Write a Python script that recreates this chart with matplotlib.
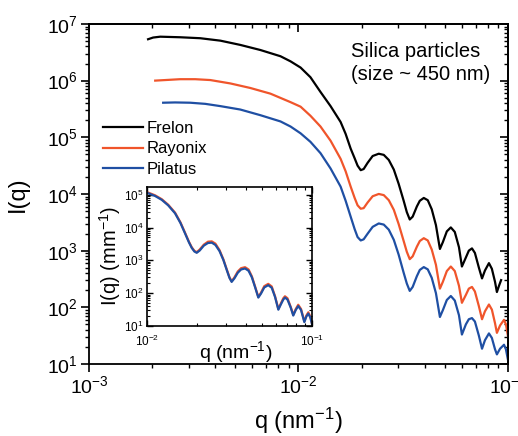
from matplotlib import pyplot as plt
from matplotlib.ticker import LogLocator, NullFormatter
import numpy as np

plt.rcParams['font.family'] = ['Liberation Sans', 'DejaVu Sans']
plt.rcParams['mathtext.fontset'] = 'custom'
plt.rcParams['mathtext.rm'] = 'Liberation Sans'
plt.rcParams['mathtext.it'] = 'Liberation Sans:italic'
plt.rcParams['mathtext.bf'] = 'Liberation Sans:bold'

# Данные основного графика: lg q (q в нм^-1) и lg I(q)
# Начальные участки (плато) у каждого детектора свои
lgq_head_frelon = [-2.718, -2.694, -2.660, -2.565, -2.469, -2.373, -2.278, -2.182, -2.086, -2.038]
lgI_head_frelon = [6.73, 6.76, 6.775, 6.765, 6.748, 6.705, 6.63, 6.54, 6.43, 6.34]

lgq_head_rayonix = [-2.684, -2.636, -2.565, -2.493, -2.421, -2.325, -2.230, -2.134, -2.038]
lgI_head_rayonix = [6.0, 6.01, 6.025, 6.025, 6.01, 5.95, 5.87, 5.77, 5.62]

lgq_head_pilatus = [-2.646, -2.589, -2.517, -2.445, -2.373, -2.278, -2.182, -2.086, -2.038]
lgI_head_pilatus = [5.61, 5.615, 5.61, 5.59, 5.55, 5.49, 5.39, 5.28, 5.19]

# Общая сетка по q в области осцилляций
lgq_mid = [-1.990, -1.943, -1.895, -1.847, -1.799, -1.775, -1.751, -1.732, -1.718, -1.703,
           -1.689, -1.670, -1.646, -1.617, -1.593, -1.569, -1.545, -1.522, -1.498, -1.483,
           -1.469, -1.455, -1.435, -1.421, -1.402, -1.383, -1.364, -1.344, -1.325, -1.311,
           -1.292, -1.273, -1.254, -1.234, -1.220, -1.201, -1.187, -1.172, -1.158, -1.139,
           -1.124, -1.110, -1.091, -1.077, -1.062, -1.053]
lgI_mid_frelon = [6.23, 6.06, 5.80, 5.55, 5.27, 5.06, 4.80, 4.63, 4.50, 4.42,
                  4.44, 4.55, 4.67, 4.71, 4.69, 4.60, 4.43, 4.18, 3.88, 3.68,
                  3.55, 3.60, 3.78, 3.88, 3.93, 3.89, 3.73, 3.45, 3.03, 3.15,
                  3.34, 3.41, 3.33, 3.06, 2.72, 2.88, 3.00, 3.04, 2.96, 2.70,
                  2.51, 2.65, 2.78, 2.68, 2.45, 2.27]
lgI_mid_rayonix = [5.54, 5.38, 5.19, 4.94, 4.62, 4.40, 4.13, 3.93, 3.80, 3.74,
                   3.75, 3.85, 3.96, 4.00, 3.98, 3.89, 3.72, 3.47, 3.17, 2.98,
                   2.85, 2.90, 3.07, 3.17, 3.22, 3.18, 3.02, 2.75, 2.33, 2.45,
                   2.64, 2.72, 2.64, 2.38, 2.08, 2.22, 2.33, 2.36, 2.28, 2.02,
                   1.79, 1.93, 2.05, 1.96, 1.72, 1.55]
lgI_mid_pilatus = [5.07, 4.92, 4.72, 4.45, 4.13, 3.88, 3.60, 3.38, 3.24, 3.18,
                   3.20, 3.30, 3.42, 3.48, 3.46, 3.37, 3.19, 2.93, 2.61, 2.42,
                   2.29, 2.36, 2.55, 2.66, 2.71, 2.67, 2.52, 2.25, 1.83, 1.95,
                   2.13, 2.20, 2.12, 1.86, 1.52, 1.70, 1.79, 1.81, 1.75, 1.50,
                   1.27, 1.42, 1.54, 1.46, 1.26, 1.17]

# Хвосты
lgq_tail_frelon = [-1.043, -1.033]
lgI_tail_frelon = [2.38, 2.48]
lgq_tail = [-1.038, -1.019, -1.010, -1.0]
lgI_tail_rayonix = [1.68, 1.78, 1.70, 1.49]
lgI_tail_pilatus = [1.27, 1.34, 1.26, 1.07]

# Вставка: абсолютная интенсивность (мм^-1)
lgq_inset = [-2.0, -1.95, -1.909, -1.87, -1.829, -1.796, -1.769, -1.745, -1.728, -1.712,
             -1.698, -1.680, -1.655, -1.630, -1.607, -1.585, -1.560, -1.537, -1.515, -1.500,
             -1.487, -1.470, -1.450, -1.430, -1.406, -1.385, -1.365, -1.345, -1.326, -1.310,
             -1.290, -1.266, -1.245, -1.225, -1.205, -1.190, -1.175, -1.165, -1.150, -1.130,
             -1.115, -1.100, -1.085, -1.068, -1.048, -1.036, -1.024, -1.012, -1.0]
lgI_inset_pilatus = [5.07, 4.97, 4.85, 4.68, 4.44, 4.14, 3.83, 3.55, 3.38, 3.27,
                     3.23, 3.30, 3.45, 3.53, 3.54, 3.47, 3.28, 3.01, 2.68, 2.46,
                     2.34, 2.45, 2.62, 2.72, 2.75, 2.68, 2.48, 2.17, 1.86, 1.98,
                     2.17, 2.24, 2.16, 1.88, 1.49, 1.65, 1.80, 1.86, 1.80, 1.55,
                     1.31, 1.48, 1.60, 1.48, 1.11, 1.28, 1.37, 1.25, 1.01]
lgI_inset_rayonix = [5.09, 4.99, 4.87, 4.70, 4.46, 4.16, 3.85, 3.57, 3.40, 3.29,
                     3.25, 3.33, 3.48, 3.57, 3.58, 3.51, 3.31, 3.03, 2.70, 2.48,
                     2.36, 2.48, 2.66, 2.76, 2.79, 2.72, 2.51, 2.19, 1.88, 2.01,
                     2.21, 2.28, 2.20, 1.90, 1.51, 1.68, 1.84, 1.90, 1.84, 1.57,
                     1.33, 1.51, 1.64, 1.51, 1.13, 1.31, 1.41, 1.28, 1.03]

labels = ["Frelon", "Rayonix", "Pilatus"]
colors = ["black", "#f0552b", "#1f4fa3"]

lgq_frelon = lgq_head_frelon + lgq_mid + lgq_tail_frelon
lgI_frelon = lgI_head_frelon + lgI_mid_frelon + lgI_tail_frelon
lgq_rayonix = lgq_head_rayonix + lgq_mid + lgq_tail
lgI_rayonix = lgI_head_rayonix + lgI_mid_rayonix + lgI_tail_rayonix
lgq_pilatus = lgq_head_pilatus + lgq_mid + lgq_tail
lgI_pilatus = lgI_head_pilatus + lgI_mid_pilatus + lgI_tail_pilatus

fig = plt.figure(figsize=(5.18, 4.36), dpi=100)
ax = fig.add_axes([0.1718, 0.1651, 0.8089, 0.780])

for lq, lI, c, lab in ((lgq_frelon, lgI_frelon, colors[0], labels[0]),
                       (lgq_rayonix, lgI_rayonix, colors[1], labels[1]),
                       (lgq_pilatus, lgI_pilatus, colors[2], labels[2])):
    ax.plot(10 ** np.array(lq), 10 ** np.array(lI), color=c, lw=1.6, label=lab,
            solid_joinstyle='round')

ax.set_xscale('log')
ax.set_yscale('log')
ax.set_xlim(1e-3, 1e-1)
ax.set_ylim(1e1, 1e7)
ax.set_xlabel("q (nm$^{-1}$)", fontsize=17, labelpad=6)
ax.set_ylabel("I(q)", fontsize=17, labelpad=13)

for a in (ax.xaxis, ax.yaxis):
    a.set_major_locator(LogLocator(base=10, numticks=20))
    a.set_minor_locator(LogLocator(base=10, subs=np.arange(2, 10), numticks=20))
    a.set_minor_formatter(NullFormatter())
ax.tick_params(which='major', direction='out', length=6, width=1.2, labelsize=14, pad=2)
ax.tick_params(which='minor', direction='out', length=3, width=1.0)
for s in ax.spines.values():
    s.set_linewidth(1.3)

# Верхняя и правая оси: риски внутрь
top = ax.secondary_xaxis('top')
right = ax.secondary_yaxis('right')
for sec, a in ((top, top.xaxis), (right, right.yaxis)):
    a.set_major_locator(LogLocator(base=10, numticks=20))
    a.set_minor_locator(LogLocator(base=10, subs=np.arange(2, 10), numticks=20))
    a.set_major_formatter(NullFormatter())
    a.set_minor_formatter(NullFormatter())
    sec.tick_params(which='major', direction='in', length=6, width=1.2)
    sec.tick_params(which='minor', direction='in', length=3, width=1.0)
    for s in sec.spines.values():
        s.set_linewidth(1.3)

ax.legend(loc='upper left', bbox_to_anchor=(0.005, 0.75), frameon=False, fontsize=12,
          handlelength=2.4, handletextpad=0.25, labelspacing=0.35, borderpad=0.2)

ax.text(0.625, 0.948, "Silica particles\n(size ~ 450 nm)", transform=ax.transAxes,
        fontsize=14.5, ha='left', va='top', linespacing=1.3)

# Вставка
ax_in = fig.add_axes([0.2832, 0.253, 0.3197, 0.3181])
ax_in.plot(10 ** np.array(lgq_inset), 10 ** np.array(lgI_inset_rayonix), color=colors[1], lw=1.6)
ax_in.plot(10 ** np.array(lgq_inset), 10 ** np.array(lgI_inset_pilatus), color=colors[2], lw=1.6)
ax_in.set_xscale('log')
ax_in.set_yscale('log')
ax_in.set_xlim(1e-2, 1e-1)
ax_in.set_ylim(1e1, 1.75e5)
for a in (ax_in.xaxis, ax_in.yaxis):
    a.set_major_locator(LogLocator(base=10, numticks=20))
    a.set_minor_locator(LogLocator(base=10, subs=np.arange(2, 10), numticks=20))
    a.set_minor_formatter(NullFormatter())
ax_in.tick_params(which='both', direction='in', top=True, right=True)
ax_in.tick_params(which='major', length=4, width=1.0, labelsize=8.5, pad=2)
ax_in.tick_params(axis='x', which='major', pad=5.5)
ax_in.tick_params(which='minor', length=2, width=0.8)
for s in ax_in.spines.values():
    s.set_linewidth(1.2)
ax_in.set_xlabel("q (nm$^{-1}$)", fontsize=14)
ax_in.xaxis.set_label_coords(0.54, -0.095)
ax_in.set_ylabel("I(q) (mm$^{-1}$)", fontsize=14.5, labelpad=1)

plt.savefig("out.png", dpi=100)
